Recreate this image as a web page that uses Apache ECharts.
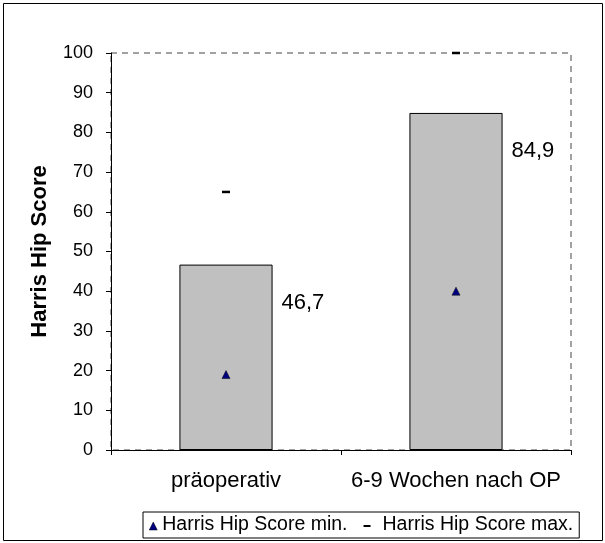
<!DOCTYPE html>
<html>
<head>
<meta charset="utf-8">
<script src="https://cdn.jsdelivr.net/npm/echarts@6/dist/echarts.min.js"></script>
<style>
html,body{margin:0;padding:0;background:#fff;}
#chart{width:605px;height:543px;}
</style>
</head>
<body>
<div id="chart"></div>
<script>
var categories = ['präoperativ', '6-9 Wochen nach OP'];
var meanValues = [46.7, 84.9];
var minValues = [19, 40];
var maxValues = [65, 100];
var yTicks = {min: 0, max: 100, interval: 10};
var axisTitle = 'Harris Hip Score';
var minName = 'Harris Hip Score min.';
var maxName = 'Harris Hip Score max.';

var font = 'Arial, "Liberation Sans", sans-serif';
var chart = echarts.init(document.getElementById('chart'), null, {renderer: 'canvas'});
var triIcon = 'path://M0,0 M6,10 L10,2 L14,10 Z';
var dashIcon = 'path://M0,0 M0,5 L7,5 L7,7 L0,7 Z M14,10';

chart.setOption({
  backgroundColor: '#fff',
  animation: false,
  textStyle: {fontFamily: font, color: '#000'},
  graphic: [{
    type: 'rect', shape: {x: 3.5, y: 3.5, width: 599, height: 537},
    style: {fill: 'none', stroke: '#000', lineWidth: 1}, z: -1
  }],
  grid: {
    left: 111, right: 34, top: 53, bottom: 93,
    show: true, borderColor: '#444', borderWidth: 1, borderType: [6, 5]
  },
  legend: {
    left: 143, top: 512,
    padding: [3, 6, 3, 0],
    borderColor: '#000', borderWidth: 1,
    itemGap: 16, itemWidth: 14, itemHeight: 10,
    textStyle: {fontSize: 19.5, fontFamily: font, color: '#000'},
    data: [
      {name: minName, icon: triIcon, itemStyle: {color: '#000080', borderColor: '#000', borderWidth: 0.5}},
      {name: maxName, icon: dashIcon, itemStyle: {color: '#000'}}
    ]
  },
  xAxis: {
    type: 'category',
    data: categories,
    boundaryGap: true,
    axisLine: {lineStyle: {color: '#000', width: 1}},
    axisTick: {show: true, length: 5, lineStyle: {color: '#000'}},
    axisLabel: {fontSize: 22, color: '#000', margin: 20, fontFamily: font, interval: 0, hideOverlap: false}
  },
  yAxis: {
    type: 'value',
    min: yTicks.min, max: yTicks.max, interval: yTicks.interval,
    name: axisTitle,
    nameLocation: 'middle',
    nameGap: 60,
    nameTextStyle: {fontSize: 22, fontWeight: 'bold', color: '#000', fontFamily: font},
    axisLine: {show: true, lineStyle: {color: '#000', width: 1}},
    axisTick: {show: true, length: 5, lineStyle: {color: '#000'}},
    axisLabel: {fontSize: 18, color: '#000', margin: 18, fontFamily: font},
    splitLine: {show: false}
  },
  series: [
    {
      type: 'bar',
      name: 'Mittelwert',
      data: meanValues,
      barWidth: '40.5%',
      itemStyle: {color: '#c0c0c0', borderColor: '#000', borderWidth: 1},
      label: {
        show: true,
        position: [102, 38],
        align: 'left',
        verticalAlign: 'middle',
        fontSize: 22,
        color: '#000',
        fontFamily: font,
        formatter: function (p) { return String(p.value).replace('.', ','); }
      },
      z: 2
    },
    {
      type: 'scatter',
      name: minName,
      data: minValues,
      symbol: 'triangle',
      symbolSize: 8,
      itemStyle: {color: '#000080', borderColor: '#000', borderWidth: 0.5, opacity: 1},
      z: 5
    },
    {
      type: 'scatter',
      name: maxName,
      data: maxValues,
      symbol: 'rect',
      symbolSize: [8, 2.5],
      itemStyle: {color: '#000', opacity: 1},
      z: 5
    }
  ]
});
</script>
</body>
</html>
